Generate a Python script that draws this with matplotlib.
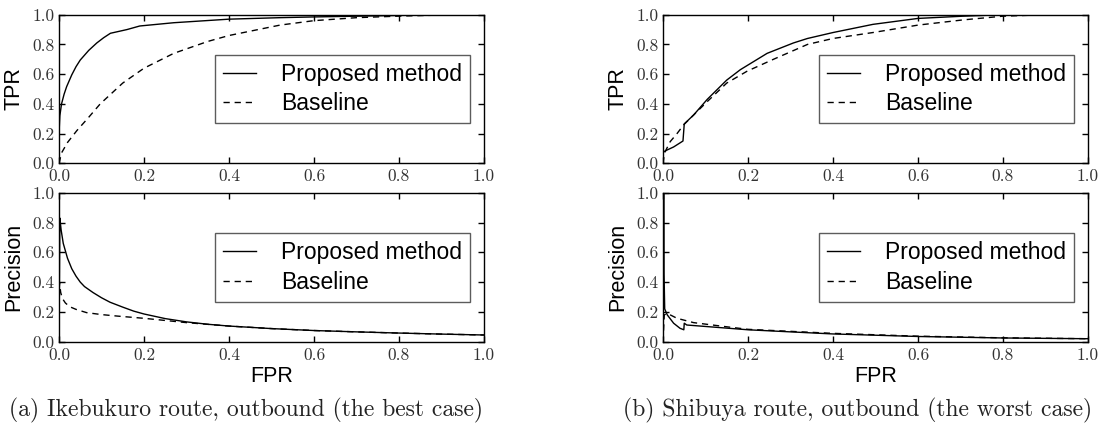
import numpy as np
import matplotlib
matplotlib.use("Agg")
import matplotlib.pyplot as plt
from matplotlib.ticker import MultipleLocator, FormatStrFormatter

# ---------------- data ----------------
# (a) Ikebukuro route, outbound - TPR vs FPR
a_roc_prop_fpr = [0.0, 0.0, 0.002, 0.006, 0.012, 0.018, 0.03, 0.04, 0.05, 0.07, 0.089, 0.105, 0.121, 0.16, 0.19, 0.27, 0.4, 0.52, 0.6, 0.7, 0.8, 0.9, 1.0]
a_roc_prop_tpr = [0.0, 0.2, 0.32, 0.40, 0.465, 0.516, 0.595, 0.65, 0.695, 0.76, 0.81, 0.845, 0.875, 0.90, 0.924, 0.946, 0.97, 0.98, 0.985, 0.99, 0.995, 1.0, 1.0]
a_roc_base_fpr = [0.0, 0.006, 0.02, 0.042, 0.07, 0.097, 0.15, 0.2, 0.27, 0.35, 0.4, 0.52, 0.6, 0.7, 0.795, 0.93, 1.0]
a_roc_base_tpr = [0.0, 0.07, 0.14, 0.22, 0.31, 0.40, 0.54, 0.64, 0.74, 0.82, 0.86, 0.93, 0.96, 0.98, 0.99, 1.0, 1.0]
# (a) Precision vs FPR
a_pr_prop_fpr = [0.0, 0.002, 0.005, 0.01, 0.015, 0.02, 0.03, 0.04, 0.05, 0.06, 0.08, 0.1, 0.12, 0.15, 0.176, 0.2, 0.25, 0.3, 0.35, 0.4, 0.5, 0.6, 0.7, 0.8, 0.9, 1.0]
a_pr_prop_prec = [0.0, 0.83, 0.75, 0.66, 0.61, 0.56, 0.49, 0.44, 0.40, 0.37, 0.33, 0.295, 0.265, 0.232, 0.205, 0.186, 0.155, 0.133, 0.117, 0.105, 0.088, 0.075, 0.066, 0.058, 0.051, 0.045]
a_pr_base_fpr = [0.0, 0.001, 0.004, 0.008, 0.015, 0.025, 0.04, 0.065, 0.1, 0.137, 0.2, 0.3, 0.4, 0.5, 0.6, 0.7, 0.8, 0.9, 1.0]
a_pr_base_prec = [0.0, 0.40, 0.33, 0.29, 0.26, 0.235, 0.217, 0.195, 0.182, 0.172, 0.157, 0.128, 0.105, 0.088, 0.075, 0.066, 0.058, 0.051, 0.045]

# (b) Shibuya route, outbound - TPR vs FPR
b_roc_prop_fpr = [0.0, 0.0, 0.01, 0.025, 0.047, 0.05, 0.072, 0.104, 0.15, 0.182, 0.245, 0.307, 0.34, 0.40, 0.494, 0.6, 0.706, 0.8, 1.0]
b_roc_prop_tpr = [0.0, 0.075, 0.09, 0.11, 0.15, 0.265, 0.325, 0.43, 0.56, 0.63, 0.74, 0.81, 0.84, 0.88, 0.935, 0.975, 0.99, 1.0, 1.0]
b_roc_base_fpr = [0.0, 0.003, 0.017, 0.033, 0.049, 0.072, 0.104, 0.15, 0.198, 0.26, 0.34, 0.40, 0.494, 0.6, 0.706, 0.8, 0.9, 1.0]
b_roc_base_tpr = [0.0, 0.067, 0.146, 0.20, 0.26, 0.325, 0.415, 0.54, 0.62, 0.70, 0.80, 0.84, 0.88, 0.93, 0.965, 0.99, 1.0, 1.0]
# (b) Precision vs FPR
b_pr_prop_fpr = [0.0, 0.0015, 0.0025, 0.004, 0.01, 0.025, 0.04, 0.049, 0.05, 0.056, 0.11, 0.2, 0.4, 0.6, 0.8, 1.0]
b_pr_prop_prec = [0.0, 1.0, 0.45, 0.22, 0.18, 0.124, 0.09, 0.08, 0.124, 0.112, 0.10, 0.08, 0.052, 0.035, 0.025, 0.02]
b_pr_base_fpr = [0.0, 0.003, 0.01, 0.033, 0.072, 0.15, 0.2, 0.4, 0.6, 0.8, 1.0]
b_pr_base_prec = [0.0, 0.18, 0.19, 0.157, 0.128, 0.10, 0.083, 0.056, 0.037, 0.026, 0.02]

labels = ["Proposed method", "Baseline"]
captions = ["(a) Ikebukuro route, outbound (the best case)",
            "(b) Shibuya route, outbound (the worst case)"]
ylabels = ["TPR", "Precision"]
xlabel = "FPR"

# ---------------- figure ----------------
plt.rcParams["axes.formatter.use_mathtext"] = True
SANS = "Liberation Sans"
fig = plt.figure(figsize=(10.98, 4.25), dpi=100)

W, H = 1098.0, 425.0
lefts = [59, 663]
axw = 425
rows = [(14.7, 163.3), (192.7, 341.7)]

panels = [
    [(a_roc_prop_fpr, a_roc_prop_tpr, a_roc_base_fpr, a_roc_base_tpr),
     (a_pr_prop_fpr, a_pr_prop_prec, a_pr_base_fpr, a_pr_base_prec)],
    [(b_roc_prop_fpr, b_roc_prop_tpr, b_roc_base_fpr, b_roc_base_tpr),
     (b_pr_prop_fpr, b_pr_prop_prec, b_pr_base_fpr, b_pr_base_prec)],
]

for c, left in enumerate(lefts):
    for r, (top, bot) in enumerate(rows):
        ax = fig.add_axes([left / W, 1 - bot / H, axw / W, (bot - top) / H])
        px, py, bx, by = panels[c][r]
        ax.plot(px, py, color="black", lw=1.0, label=labels[0])
        ax.plot(bx, by, color="black", lw=1.0, ls=(0, (4.5, 3.5)), label=labels[1])
        ax.set_xlim(0, 1)
        ax.set_ylim(0, 1)
        ax.xaxis.set_major_locator(MultipleLocator(0.2))
        ax.yaxis.set_major_locator(MultipleLocator(0.2))
        ax.xaxis.set_major_formatter(FormatStrFormatter("%.1f"))
        ax.yaxis.set_major_formatter(FormatStrFormatter("%.1f"))
        ax.tick_params(direction="in", top=True, right=True, length=4, width=1,
                       labelsize=12.5, colors="black")
        ax.tick_params(axis="x", pad=4)
        ax.tick_params(axis="y", pad=3)
        for lab in ax.get_xticklabels() + ax.get_yticklabels():
            lab.set_fontfamily("cmr10")
            lab.set_color("#333333")
        for sp in ax.spines.values():
            sp.set_linewidth(1.0)
            sp.set_color("black")
        ax.set_ylabel(ylabels[r], fontsize=15.5, family=SANS)
        ax.yaxis.set_label_coords(-0.082, 0.5)
        if r == 1:
            ax.set_xlabel(xlabel, fontsize=15.5, family=SANS)
            ax.xaxis.set_label_coords(0.5, -0.165)
        leg = ax.legend(loc="center right", prop={"family": SANS, "size": 16.5},
                        fancybox=False, frameon=True, borderpad=0.35,
                        labelspacing=0.3, handlelength=1.45, handletextpad=1.1,
                        borderaxespad=0.6)
        leg.get_frame().set_edgecolor("#333333")
        leg.get_frame().set_linewidth(1.0)

fig.text(246 / W, 1 - 410 / H, captions[0], family="cmr10", fontsize=17,
         ha="center", va="center", color="#222222")
fig.text(858 / W, 1 - 410 / H, captions[1], family="cmr10", fontsize=17,
         ha="center", va="center", color="#222222")

fig.savefig("out.png", dpi=100)
